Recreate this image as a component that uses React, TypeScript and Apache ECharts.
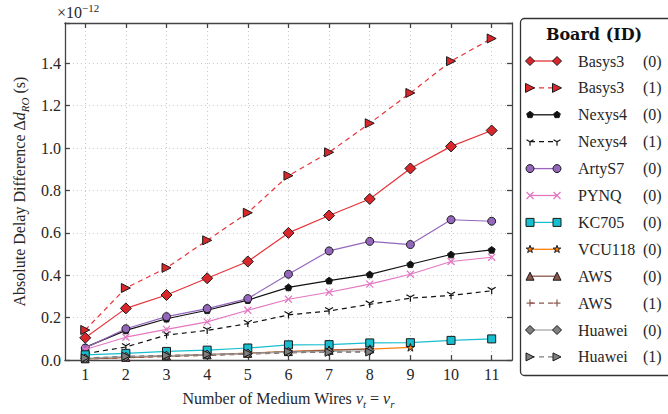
import React, { useEffect, useRef } from 'react';
import * as echarts from 'echarts';

// ---------- data ----------
const wires = [1, 2, 3, 4, 5, 6, 7, 8, 9, 10, 11];
const yTicks = [0.0, 0.2, 0.4, 0.6, 0.8, 1.0, 1.2, 1.4];

const basys3_0 = [0.105, 0.244, 0.307, 0.386, 0.465, 0.600, 0.682, 0.760, 0.904, 1.008, 1.083];
const basys3_1 = [0.142, 0.340, 0.435, 0.565, 0.695, 0.870, 0.980, 1.117, 1.260, 1.410, 1.517];
const nexys4_0 = [0.060, 0.140, 0.195, 0.235, 0.283, 0.343, 0.375, 0.404, 0.452, 0.498, 0.520];
const nexys4_1 = [0.030, 0.062, 0.118, 0.140, 0.172, 0.213, 0.232, 0.263, 0.292, 0.305, 0.327];
const artyS7_0 = [0.057, 0.148, 0.205, 0.243, 0.290, 0.405, 0.515, 0.560, 0.545, 0.662, 0.655];
const pynq_0 = [0.050, 0.108, 0.145, 0.180, 0.235, 0.287, 0.320, 0.358, 0.405, 0.465, 0.485];
const kc705_0 = [0.025, 0.032, 0.041, 0.047, 0.057, 0.072, 0.073, 0.081, 0.082, 0.093, 0.100];
const vcu118_0 = [0.006, 0.013, 0.020, 0.026, 0.033, 0.040, 0.048, 0.052, 0.060];
const aws_0 = [0.006, 0.013, 0.019, 0.025, 0.032, 0.040, 0.046, 0.053];
const aws_1 = [0.005, 0.011, 0.017, 0.022, 0.028, 0.034, 0.038, 0.040];
const huawei_0 = [0.008, 0.016, 0.021, 0.026, 0.031, 0.038, 0.041, 0.044];
const huawei_1 = [0.010, 0.018, 0.022, 0.027, 0.032, 0.040, 0.037, 0.038];

const boards = ['Basys3', 'Basys3', 'Nexys4', 'Nexys4', 'ArtyS7', 'PYNQ', 'KC705', 'VCU118', 'AWS', 'AWS', 'Huawei', 'Huawei'];
const ids = ['(0)', '(1)', '(0)', '(1)', '(0)', '(0)', '(0)', '(0)', '(0)', '(1)', '(0)', '(1)'];
const values = [basys3_0, basys3_1, nexys4_0, nexys4_1, artyS7_0, pynq_0, kc705_0, vcu118_0, aws_0, aws_1, huawei_0, huawei_1];

// ---------- styles ----------
const FONT = '"Liberation Serif", "DejaVu Serif", serif';
const TXT = '#262626';
const EDGE = '#1a1a1a';

type MK = 'diamond' | 'triRight' | 'pentagon' | 'triDown' | 'circle' | 'x' | 'square' | 'star' | 'triUp' | 'plus';
const styles: { line: string; fill: string; edge: string; marker: MK; dash: boolean; size: number }[] = [
  { line: '#e8333a', fill: '#d9262b', edge: EDGE, marker: 'diamond', dash: false, size: 11 },
  { line: '#e8333a', fill: '#d9262b', edge: EDGE, marker: 'triRight', dash: true, size: 9 },
  { line: '#111111', fill: '#111111', edge: EDGE, marker: 'pentagon', dash: false, size: 7 },
  { line: '#111111', fill: '#111111', edge: '#111111', marker: 'triDown', dash: true, size: 8 },
  { line: '#9467bd', fill: '#9467bd', edge: EDGE, marker: 'circle', dash: false, size: 8 },
  { line: '#e377c2', fill: '#e377c2', edge: '#e377c2', marker: 'x', dash: false, size: 7 },
  { line: '#17becf', fill: '#17becf', edge: EDGE, marker: 'square', dash: false, size: 8 },
  { line: '#ff7f0e', fill: '#ff7f0e', edge: EDGE, marker: 'star', dash: false, size: 8 },
  { line: '#8c564b', fill: '#8c564b', edge: EDGE, marker: 'triUp', dash: false, size: 8 },
  { line: '#8c564b', fill: '#8c564b', edge: '#8c564b', marker: 'plus', dash: true, size: 7 },
  { line: '#a8a8a8', fill: '#7f7f7f', edge: EDGE, marker: 'diamond', dash: false, size: 9 },
  { line: '#7f7f7f', fill: '#7f7f7f', edge: EDGE, marker: 'triRight', dash: true, size: 8 },
];

const symbolOf: Record<MK, string> = {
  diamond: 'diamond',
  triRight: 'path://M0,0L10,5L0,10Z',
  pentagon: 'path://M5,0L9.76,3.45L7.94,9.05L2.06,9.05L0.24,3.45Z',
  triDown: 'path://M5,5L5,10M5,5L0.67,2.5M5,5L9.33,2.5',
  circle: 'circle',
  x: 'path://M0,0L10,10M10,0L0,10',
  square: 'rect',
  star: 'path://M5,0L6.123,3.455L9.755,3.455L6.817,5.59L7.939,9.045L5,6.91L2.061,9.045L3.183,5.59L0.245,3.455L3.877,3.455Z',
  triUp: 'triangle',
  plus: 'path://M5,0L5,10M0,5L10,5',
};

function markerGraphic(kind: MK, cx: number, cy: number, s: number, fill: string, stroke: string): any[] {
  const r = s / 2;
  const poly = (pts: number[][]) => ({
    type: 'polygon', z: 110, shape: { points: pts },
    style: { fill, stroke, lineWidth: 1 },
  });
  const lines = (segs: number[][][]) => segs.map((seg) => ({
    type: 'line', z: 110,
    shape: { x1: seg[0][0], y1: seg[0][1], x2: seg[1][0], y2: seg[1][1] },
    style: { stroke, lineWidth: 1.2 },
  }));
  switch (kind) {
    case 'diamond':
      return [poly([[cx, cy - r], [cx + r, cy], [cx, cy + r], [cx - r, cy]])];
    case 'triRight':
      return [poly([[cx - r, cy - r], [cx + r, cy], [cx - r, cy + r]])];
    case 'triUp':
      return [poly([[cx, cy - r], [cx + r, cy + r], [cx - r, cy + r]])];
    case 'square':
      return [poly([[cx - r, cy - r], [cx + r, cy - r], [cx + r, cy + r], [cx - r, cy + r]])];
    case 'circle':
      return [{ type: 'circle', z: 110, shape: { cx, cy, r }, style: { fill, stroke, lineWidth: 1 } }];
    case 'pentagon': {
      const pts = [0, 1, 2, 3, 4].map((k) => {
        const a = (-90 + 72 * k) * Math.PI / 180;
        return [cx + r * Math.cos(a), cy + r * Math.sin(a)];
      });
      return [poly(pts)];
    }
    case 'star': {
      const pts: number[][] = [];
      for (let k = 0; k < 10; k++) {
        const a = (-90 + 36 * k) * Math.PI / 180;
        const rr = k % 2 === 0 ? r : r * 0.382;
        pts.push([cx + rr * Math.cos(a), cy + rr * Math.sin(a)]);
      }
      return [poly(pts)];
    }
    case 'x':
      return lines([[[cx - r, cy - r], [cx + r, cy + r]], [[cx + r, cy - r], [cx - r, cy + r]]]);
    case 'plus':
      return lines([[[cx, cy - r], [cx, cy + r]], [[cx - r, cy], [cx + r, cy]]]);
    case 'triDown':
      return lines([
        [[cx, cy], [cx, cy + r]],
        [[cx, cy], [cx - r * 0.87, cy - r * 0.5]],
        [[cx, cy], [cx + r * 0.87, cy - r * 0.5]],
      ]);
  }
  return [];
}

function buildLegend(): any[] {
  const els: any[] = [];
  els.push({
    type: 'rect', z: 100,
    shape: { x: 520.5, y: 18.5, width: 170, height: 357, r: 4 },
    style: { fill: '#ffffff', stroke: '#333333', lineWidth: 1.3 },
  });
  els.push({
    type: 'text', z: 110, x: 594, y: 34,
    style: { text: 'Board (ID)', font: `bold 16px "DejaVu Serif", serif`, fill: '#111', align: 'center', verticalAlign: 'middle' },
  });
  boards.forEach((b, i) => {
    const st = styles[i];
    const y = 61 + i * 26.9;
    els.push({
      type: 'line', z: 105,
      shape: { x1: 530, y1: y, x2: 557, y2: y },
      style: { stroke: st.line, lineWidth: 1.3, lineDash: st.dash ? [5, 4] : null },
    });
    const ms = Math.min(st.size, 9);
    els.push(...markerGraphic(st.marker, 530, y, ms, st.fill, st.edge));
    els.push(...markerGraphic(st.marker, 557, y, ms, st.fill, st.edge));
    els.push({
      type: 'text', z: 110, x: 578, y,
      style: { text: b, font: `16px ${FONT}`, fill: TXT, align: 'left', verticalAlign: 'middle' },
    });
    els.push({
      type: 'text', z: 110, x: 643, y,
      style: { text: ids[i], font: `16px ${FONT}`, fill: TXT, align: 'left', verticalAlign: 'middle' },
    });
  });
  els.push({
    type: 'text', z: 110, x: 57, y: 12,
    style: {
      text: '×10{sup|−12}', font: `16px ${FONT}`, fill: TXT, align: 'left', verticalAlign: 'middle',
      rich: { sup: { fontSize: 11, fontFamily: FONT, fill: TXT, verticalAlign: 'top', lineHeight: 20, padding: [0, 0, 8, 0] } },
    },
  });
  return els;
}

const isTick = (v: number) => yTicks.some((t) => Math.abs(t - v) < 1e-6);

const axisLineStyle = { color: '#444444', width: 1.3 };

const option: any = {
  animation: false,
  backgroundColor: '#ffffff',
  grid: { left: 56, right: 156, top: 23, bottom: 43, containLabel: false },
  xAxis: [
    {
      type: 'value', min: 0.5, max: 11.5, position: 'bottom',
      axisLine: { show: true, onZero: false, lineStyle: axisLineStyle },
      axisTick: { show: true, inside: true, length: 5, customValues: wires, lineStyle: axisLineStyle },
      axisLabel: { customValues: wires, fontFamily: FONT, fontSize: 16, color: TXT, margin: 6 },
      splitLine: { show: true, lineStyle: { type: [1, 3], color: '#c8c8c8', width: 1 } },
      name: 'Number of Medium Wires {i|v}{sub|t} = {i|v}{sub|r}',
      nameLocation: 'middle', nameGap: 20,
      nameTextStyle: {
        fontFamily: FONT, fontSize: 16, color: TXT, lineHeight: 22, verticalAlign: 'top',
        rich: {
          i: { fontFamily: FONT, fontSize: 16, fontStyle: 'italic', color: TXT, lineHeight: 22 },
          sub: { fontFamily: FONT, fontSize: 11, fontStyle: 'italic', color: TXT, verticalAlign: 'bottom', lineHeight: 22, padding: [8, 0, 0, 0] },
        },
      },
    },
    {
      type: 'value', min: 0.5, max: 11.5, position: 'top',
      axisLine: { show: true, onZero: false, lineStyle: axisLineStyle },
      axisTick: { show: true, inside: true, length: 5, customValues: wires, lineStyle: axisLineStyle },
      axisLabel: { show: false },
      splitLine: { show: false },
    },
  ],
  yAxis: [
    {
      type: 'value', min: 0, max: 1.59, interval: 0.2, position: 'left',
      axisLine: { show: true, onZero: false, lineStyle: axisLineStyle },
      axisTick: { show: true, inside: true, length: 5, lineStyle: axisLineStyle },
      axisLabel: {
        fontFamily: FONT, fontSize: 16, color: TXT, margin: 4,
        formatter: (v: number) => (isTick(v) ? v.toFixed(1) : ''),
      },
      splitLine: { show: true, lineStyle: { type: [1, 3], color: '#c8c8c8', width: 1 } },
      name: 'Absolute Delay Difference Δ{i|d}{sub|RO} (s)',
      nameLocation: 'middle', nameGap: 34, nameRotate: 90,
      nameTextStyle: {
        fontFamily: FONT, fontSize: 16, color: TXT, lineHeight: 22,
        rich: {
          i: { fontFamily: FONT, fontSize: 16, fontStyle: 'italic', color: TXT, lineHeight: 22 },
          sub: { fontFamily: FONT, fontSize: 11, fontStyle: 'italic', color: TXT, verticalAlign: 'bottom', lineHeight: 22, padding: [8, 0, 0, 0] },
        },
      },
    },
    {
      type: 'value', min: 0, max: 1.59, interval: 0.2, position: 'right',
      axisLine: { show: true, onZero: false, lineStyle: axisLineStyle },
      axisTick: { show: true, inside: true, length: 5, lineStyle: axisLineStyle },
      axisLabel: { show: false },
      splitLine: { show: false },
    },
  ],
  series: values.map((vals, i) => {
    const st = styles[i];
    const open = st.marker === 'x' || st.marker === 'plus' || st.marker === 'triDown';
    return {
      type: 'line',
      name: `${boards[i]} ${ids[i]}`,
      xAxisIndex: 0, yAxisIndex: 0,
      data: vals.map((v, k) => [wires[k], v]),
      symbol: symbolOf[st.marker],
      symbolSize: st.size,
      symbolKeepAspect: true,
      showSymbol: true,
      z: 10 + i,
      lineStyle: { color: st.line, width: 1.2, type: st.dash ? [5, 4] : 'solid' },
      itemStyle: { color: st.fill, borderColor: st.edge, borderWidth: open ? 1.2 : 1, opacity: 1 },
      emphasis: { disabled: true },
    };
  }),
  graphic: buildLegend(),
};

export default function App() {
  const ref = useRef<HTMLDivElement>(null);
  useEffect(() => {
    document.body.style.margin = '0';
    const chart = echarts.init(ref.current!, null, { renderer: 'svg' });
    chart.setOption(option);
    return () => chart.dispose();
  }, []);
  return <div ref={ref} style={{ width: 668, height: 414 }} />;
}
